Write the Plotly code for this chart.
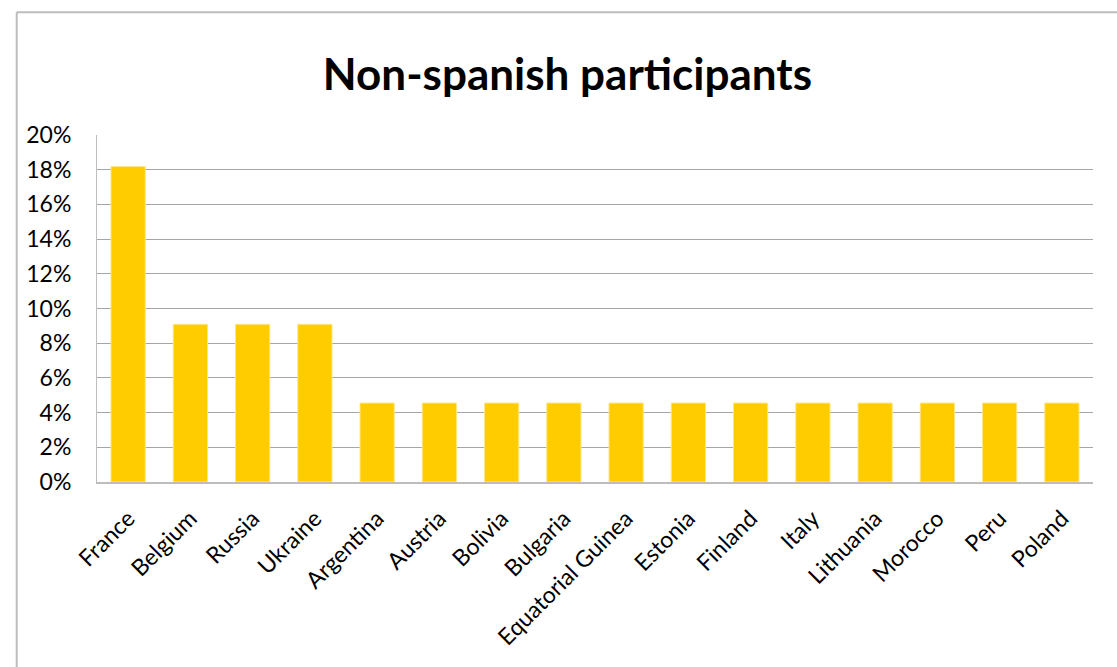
import plotly.graph_objects as go

countries = ["France", "Belgium", "Russia", "Ukraine", "Argentina", "Austria",
             "Bolivia", "Bulgaria", "Equatorial Guinea", "Estonia", "Finland",
             "Italy", "Lithuania", "Morocco", "Peru", "Poland"]
shares = [0.1818, 0.0909, 0.0909, 0.0909, 0.0455, 0.0455, 0.0455, 0.0455,
          0.0455, 0.0455, 0.0455, 0.0455, 0.0455, 0.0455, 0.0455, 0.0455]
y_ticks = [0, 0.02, 0.04, 0.06, 0.08, 0.10, 0.12, 0.14, 0.16, 0.18, 0.20]

FONT = "Lato, Carlito, Calibri, sans-serif"

fig = go.Figure(go.Bar(
    x=countries, y=shares,
    marker=dict(color="#FFCC00", line=dict(color="#FFE680", width=1)),
))

fig.update_layout(
    width=1117, height=667,
    margin=dict(l=97, r=24, t=135, b=185),
    paper_bgcolor="white", plot_bgcolor="white",
    bargap=0.45,
    showlegend=False,
    font=dict(family=FONT, color="black"),
    title=dict(text="<b>Non-spanish participants</b>", x=0.508, xanchor="center",
               y=0.888, yanchor="middle", font=dict(size=44, family=FONT)),
    shapes=[
        dict(type="line", xref="paper", yref="paper", x0=-0.0806, x1=1.03,
             y0=1.3537, y1=1.3537, line=dict(color="#BDBDBD", width=2)),
        dict(type="line", xref="paper", yref="paper", x0=-0.0806, x1=-0.0806,
             y0=1.3537, y1=-0.6, line=dict(color="#BDBDBD", width=2)),
    ],
)

fig.update_xaxes(
    tickangle=-45, tickfont=dict(size=23), showgrid=False,
    showline=True, linecolor="#BDBDBD", linewidth=2, ticks="",
    ticklabelstandoff=12,
)
fig.update_yaxes(
    range=[0, 0.2], tickvals=y_ticks, tickformat=".0%",
    tickfont=dict(size=23), showgrid=True, gridcolor="#A6A6A6", gridwidth=1,
    showline=True, linecolor="#BDBDBD", linewidth=1, ticks="",
    ticklabelstandoff=20, zeroline=False,
)

fig.write_html("out.html")
